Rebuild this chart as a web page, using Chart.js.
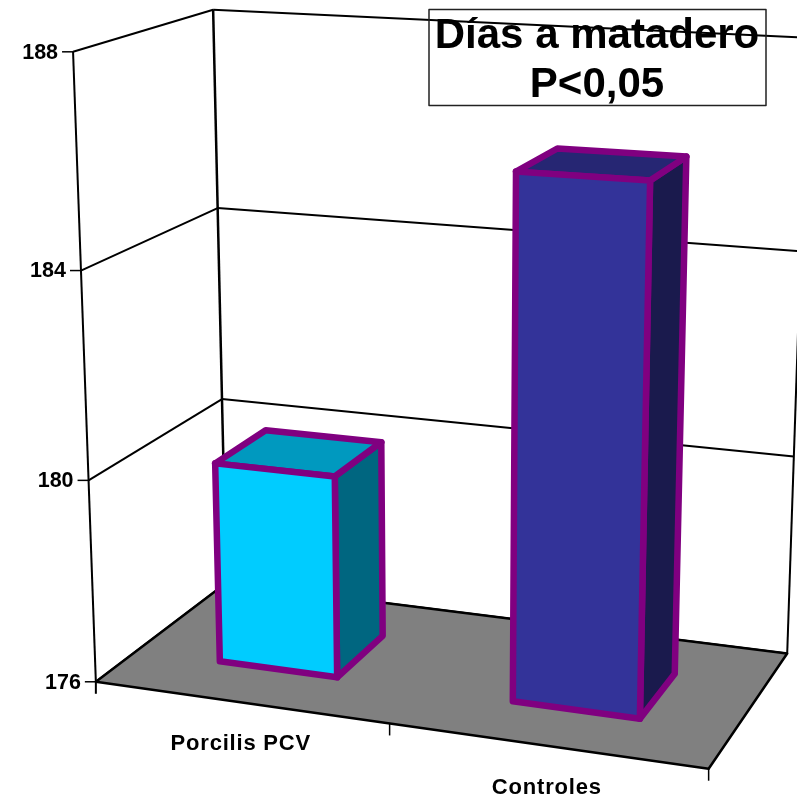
<!DOCTYPE html>
<html>
<head>
<meta charset="utf-8">
<title>Días a matadero</title>
<script src="https://cdn.jsdelivr.net/npm/chart.js@4"></script>
<style>
html, body { margin: 0; padding: 0; background: #fff; }
canvas { display: block; }
</style>
</head>
<body>
<canvas id="chart" width="797" height="800"></canvas>
<script>
const categories = ['Porcilis PCV', 'Controles'];
const dias = [180, 186];
const yTicks = [176, 180, 184, 188];
const titleLines = ['Días a matadero', 'P<0,05'];
const barColors = ['#00CCFF', '#333399'];
const topColors = ['#0099BF', '#262673'];
const sideColors = ['#006680', '#1A1A4D'];

const FONT = '"Liberation Sans", Arial, sans-serif';
const BAR_DEPTH = [0.3, 0.7];

// camera calibration: [u, h, d] of the plot box -> where it lands on the page
const calib = [
    [0, 0, 0, 96, 682], [0, 1/3, 0, 89, 480], [0, 2/3, 0, 81, 271], [0, 1, 0, 72.7, 51.7],
    [0, 0, 1, 226, 584], [0, 1/3, 1, 222, 398], [0, 2/3, 1, 218, 208], [0, 1, 1, 213, 10],
    [1, 0, 0, 709, 769], [1, 0, 1, 787, 653], [1, 1/3, 1, 794, 457], [0.5, 0, 0, 389, 723]
];

function solve(A, b) {
    const n = b.length;
    for (let i = 0; i < n; i++) {
        let p = i;
        for (let r = i + 1; r < n; r++) if (Math.abs(A[r][i]) > Math.abs(A[p][i])) p = r;
        [A[i], A[p]] = [A[p], A[i]];
        [b[i], b[p]] = [b[p], b[i]];
        for (let r = i + 1; r < n; r++) {
            const f = A[r][i] / A[i][i];
            for (let c = i; c < n; c++) A[r][c] -= f * A[i][c];
            b[r] -= f * b[i];
        }
    }
    const x = new Array(n).fill(0);
    for (let i = n - 1; i >= 0; i--) {
        let s = b[i];
        for (let c = i + 1; c < n; c++) s -= A[i][c] * x[c];
        x[i] = s / A[i][i];
    }
    return x;
}

function fitCamera(points) {
    const ATA = Array.from({length: 11}, () => new Array(11).fill(0));
    const ATb = new Array(11).fill(0);
    const addRow = (row, v) => {
        for (let i = 0; i < 11; i++) {
            ATb[i] += row[i] * v;
            for (let j = 0; j < 11; j++) ATA[i][j] += row[i] * row[j];
        }
    };
    points.forEach(([u, h, d, px, py]) => {
        const x = px / 800, y = py / 800;
        addRow([u, h, d, 1, 0, 0, 0, 0, -x * u, -x * h, -x * d], x);
        addRow([0, 0, 0, 0, u, h, d, 1, -y * u, -y * h, -y * d], y);
    });
    return solve(ATA, ATb);
}

const cam = fitCamera(calib);
function project(u, h, d) {
    const w = cam[8] * u + cam[9] * h + cam[10] * d + 1;
    return [
        800 * (cam[0] * u + cam[1] * h + cam[2] * d + cam[3]) / w,
        800 * (cam[4] * u + cam[5] * h + cam[6] * d + cam[7]) / w
    ];
}

function poly(ctx, pts, fill, stroke, lw) {
    ctx.beginPath();
    pts.forEach((p, i) => i ? ctx.lineTo(p[0], p[1]) : ctx.moveTo(p[0], p[1]));
    ctx.closePath();
    if (fill) { ctx.fillStyle = fill; ctx.fill(); }
    if (stroke) { ctx.strokeStyle = stroke; ctx.lineWidth = lw; ctx.lineJoin = 'round'; ctx.stroke(); }
}

function line(ctx, a, b, lw) {
    ctx.beginPath();
    ctx.moveTo(a[0], a[1]);
    ctx.lineTo(b[0], b[1]);
    ctx.strokeStyle = '#000';
    ctx.lineWidth = lw;
    ctx.stroke();
}

const box3d = {
    id: 'box3d',
    // the bars are laid out by Chart.js, then drawn here through the camera
    beforeDatasetsDraw(chart) {
        const ctx = chart.ctx;
        const xs = chart.scales.x, ys = chart.scales.y;
        const hOf = v => (ys.bottom - ys.getPixelForValue(v)) / (ys.bottom - ys.top);
        ctx.save();

        // walls and gridlines
        yTicks.forEach(v => {
            const h = hOf(v);
            line(ctx, project(0, h, 0), project(0, h, 1), 2);
            line(ctx, project(0, h, 1), project(1, h, 1), 2);
        });
        line(ctx, project(0, 0, 0), project(0, 1, 0), 2);
        line(ctx, project(0, 0, 1), project(0, 1, 1), 2.5);
        line(ctx, project(1, 0, 1), project(1, 1, 1), 2);

        // floor
        poly(ctx, [project(0, 0, 0), project(1, 0, 0), project(1, 0, 1), project(0, 0, 1)], '#808080', '#000', 2.5);

        // value axis
        ctx.font = 'bold 21.5px ' + FONT;
        ctx.fillStyle = '#000';
        ctx.textAlign = 'right';
        ctx.textBaseline = 'middle';
        yTicks.forEach(v => {
            const p = project(0, hOf(v), 0);
            line(ctx, [p[0] - 11, p[1]], p, 1.5);
            ctx.fillText(String(v), p[0] - 15, p[1] + 1);
        });
        const a0 = project(0, 0, 0);
        line(ctx, a0, [a0[0], a0[1] + 12], 2);

        // category axis
        ctx.textAlign = 'center';
        ctx.letterSpacing = '0.8px';
        ctx.font = 'bold 22px ' + FONT;
        categories.forEach((c, i) => {
            const uc = (xs.getPixelForValue(i) - xs.left) / (xs.right - xs.left);
            const p = project(uc, 0, 0);
            ctx.fillText(c, p[0] + 1, p[1] + 42);
            const e = project((i + 1) / categories.length, 0, 0);
            line(ctx, e, [e[0], e[1] + 12], 1.5);
        });
        ctx.letterSpacing = '0px';

        // bars
        chart.getDatasetMeta(0).data.forEach((el, i) => {
            const u0 = (el.x - el.width / 2 - xs.left) / (xs.right - xs.left);
            const u1 = (el.x + el.width / 2 - xs.left) / (xs.right - xs.left);
            const h0 = (ys.bottom - el.base) / (ys.bottom - ys.top);
            const h1 = (ys.bottom - el.y) / (ys.bottom - ys.top);
            const [d0, d1] = BAR_DEPTH;
            const stroke = chart.data.datasets[0].borderColor;
            poly(ctx, [project(u1, h0, d0), project(u1, h0, d1), project(u1, h1, d1), project(u1, h1, d0)], sideColors[i], stroke, 6.5);
            poly(ctx, [project(u0, h1, d0), project(u1, h1, d0), project(u1, h1, d1), project(u0, h1, d1)], topColors[i], stroke, 6.5);
            poly(ctx, [project(u0, h0, d0), project(u1, h0, d0), project(u1, h1, d0), project(u0, h1, d0)], barColors[i], stroke, 6.5);
        });

        // title box
        ctx.strokeStyle = '#222';
        ctx.lineWidth = 1.5;
        ctx.strokeRect(429, 9.5, 337, 96);
        ctx.font = 'bold 42px ' + FONT;
        ctx.fillStyle = '#000';
        ctx.textBaseline = 'alphabetic';
        ctx.fillText(titleLines[0], 597, 48);
        ctx.fillText(titleLines[1], 597, 97);

        ctx.restore();
        return false;
    }
};

new Chart(document.getElementById('chart'), {
    type: 'bar',
    data: {
        labels: categories,
        datasets: [{
            label: 'Días a matadero',
            data: dias,
            base: 176,
            backgroundColor: barColors,
            borderColor: '#800080',
            barPercentage: 0.41,
            categoryPercentage: 1
        }]
    },
    options: {
        responsive: false,
        animation: false,
        layout: { padding: 0 },
        plugins: { legend: { display: false }, tooltip: { enabled: false } },
        scales: {
            x: { display: false },
            y: { display: false, min: 176, max: 188, ticks: { stepSize: 4 } }
        }
    },
    plugins: [box3d]
});
</script>
</body>
</html>
